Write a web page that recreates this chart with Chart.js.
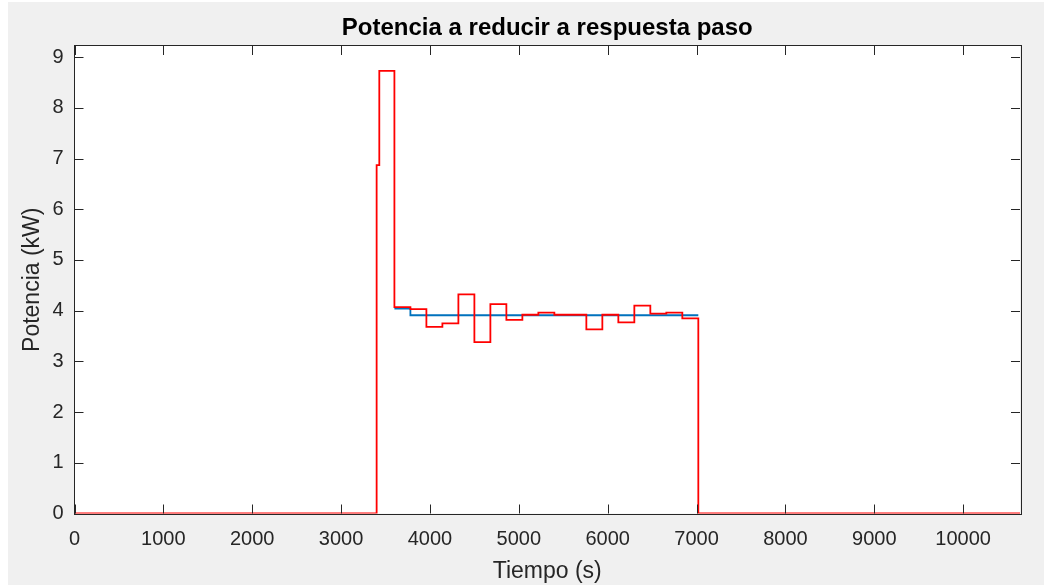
<!DOCTYPE html>
<html>
<head>
<meta charset="utf-8">
<title>Potencia a reducir a respuesta paso</title>
<script src="https://cdn.jsdelivr.net/npm/chart.js@4.4.1/dist/chart.umd.min.js"></script>
<style>
  html, body { margin: 0; padding: 0; background: #fff; }
  canvas { display: block; }
</style>
</head>
<body>
<canvas id="myChart" width="1044" height="585"></canvas>
<script>
// tiempo (s) en que empieza cada escalon y su valor (kW)
const redTime  = [0, 3400, 3430, 3600, 3780, 3960, 4140, 4320, 4500, 4680, 4860, 5040, 5220, 5400, 5760, 5940, 6120, 6300, 6480, 6660, 6840, 7020, 10640]
const redPower = [0, 6.87, 8.73, 4.07, 4.03, 3.68, 3.75, 4.32, 3.38, 4.13, 3.82, 3.92, 3.96, 3.92, 3.63, 3.92, 3.77, 4.10, 3.94, 3.96, 3.85, 0, 0]
const blueTime  = [3600, 3780, 7020]
const bluePower = [4.04, 3.91, 3.91]

// marcas de los ejes
const xTicks = [0, 1000, 2000, 3000, 4000, 5000, 6000, 7000, 8000, 9000, 10000]
const yTicks = [0, 1, 2, 3, 4, 5, 6, 7, 8, 9]
const xMin = 0, xMax = 10640
const yMin = 0, yMax = 9.22

const axisColor = '#262626'
const fontFamily = '"Liberation Sans", Arial, Helvetica, sans-serif'

function toPoints(xs, ys) {
  return xs.map((x, i) => ({ x: x, y: ys[i] }))
}

// fondo gris, caja de ejes y marcas hacia dentro (estilo MATLAB)
const matlabFrame = {
  id: 'matlabFrame',
  beforeDraw(chart) {
    const { ctx, width, height, chartArea: a } = chart
    ctx.save()
    ctx.fillStyle = '#ffffff'
    ctx.fillRect(0, 0, width, height)
    ctx.fillStyle = '#f0f0f0'
    ctx.fillRect(8, 2, width - 8, height - 2)
    ctx.fillStyle = '#ffffff'
    ctx.fillRect(a.left, a.top, a.right - a.left, a.bottom - a.top)
    ctx.restore()
  },
  afterDraw(chart) {
    const { ctx, chartArea: a, scales } = chart
    const len = 9
    ctx.save()
    ctx.strokeStyle = axisColor
    ctx.lineWidth = 1
    ctx.beginPath()
    scales.x.ticks.forEach(t => {
      const px = Math.round(scales.x.getPixelForValue(t.value)) + 0.5
      ctx.moveTo(px, a.bottom)
      ctx.lineTo(px, a.bottom - len)
      ctx.moveTo(px, a.top)
      ctx.lineTo(px, a.top + len)
    })
    scales.y.ticks.forEach(t => {
      const py = Math.round(scales.y.getPixelForValue(t.value)) + 0.5
      ctx.moveTo(a.left, py)
      ctx.lineTo(a.left + len, py)
      ctx.moveTo(a.right, py)
      ctx.lineTo(a.right - len, py)
    })
    ctx.stroke()
    ctx.strokeRect(Math.round(a.left) - 0.5, Math.round(a.top) - 0.5,
      Math.round(a.right - a.left) + 1, Math.round(a.bottom - a.top) + 1)
    ctx.restore()
  }
}

const ctx = document.getElementById('myChart')

new Chart(ctx, {
  type: 'line',
  data: {
    datasets: [{
      label: 'Potencia a reducir',
      data: toPoints(redTime, redPower),
      borderColor: 'rgb(255, 0, 0)',
      borderWidth: 1.8,
      stepped: true,
      pointRadius: 0,
      order: 0
    }, {
      label: 'Referencia',
      data: toPoints(blueTime, bluePower),
      borderColor: 'rgb(0, 114, 189)',
      borderWidth: 1.8,
      stepped: true,
      pointRadius: 0,
      order: 1
    }]
  },
  options: {
    responsive: false,
    animation: false,
    events: [],
    layout: { padding: { left: 0, right: 24, top: 0, bottom: 0 } },
    plugins: {
      legend: { display: false },
      tooltip: { enabled: false },
      title: {
        display: true,
        text: 'Potencia a reducir a respuesta paso',
        fullSize: false,
        color: '#000000',
        font: { family: fontFamily, size: 24, weight: 'bold' },
        padding: { top: 13.6, bottom: 3.6 }
      }
    },
    scales: {
      x: {
        type: 'linear',
        min: xMin,
        max: xMax,
        grid: { display: false, drawTicks: false },
        border: { display: false },
        afterBuildTicks: s => { s.ticks = xTicks.map(v => ({ value: v })) },
        ticks: {
          autoSkip: false,
          maxRotation: 0,
          padding: 13.5,
          color: axisColor,
          font: { family: fontFamily, size: 20 },
          callback: v => String(v)
        },
        title: {
          display: true,
          text: 'Tiempo (s)',
          color: axisColor,
          font: { family: fontFamily, size: 23 },
          padding: { top: 0, bottom: 0 }
        },
        afterFit: s => { s.height = 71.5 }
      },
      y: {
        min: yMin,
        max: yMax,
        grid: { display: false, drawTicks: false },
        border: { display: false },
        afterBuildTicks: s => { s.ticks = yTicks.map(v => ({ value: v })) },
        ticks: {
          autoSkip: false,
          padding: 11,
          color: axisColor,
          font: { family: fontFamily, size: 20 },
          callback: v => String(v)
        },
        title: {
          display: true,
          text: 'Potencia (kW)',
          color: axisColor,
          font: { family: fontFamily, size: 23 },
          padding: { top: 18.5, bottom: 0 }
        },
        afterFit: s => { s.width = 74.5 }
      }
    }
  },
  plugins: [matlabFrame]
})
</script>
</body>
</html>
